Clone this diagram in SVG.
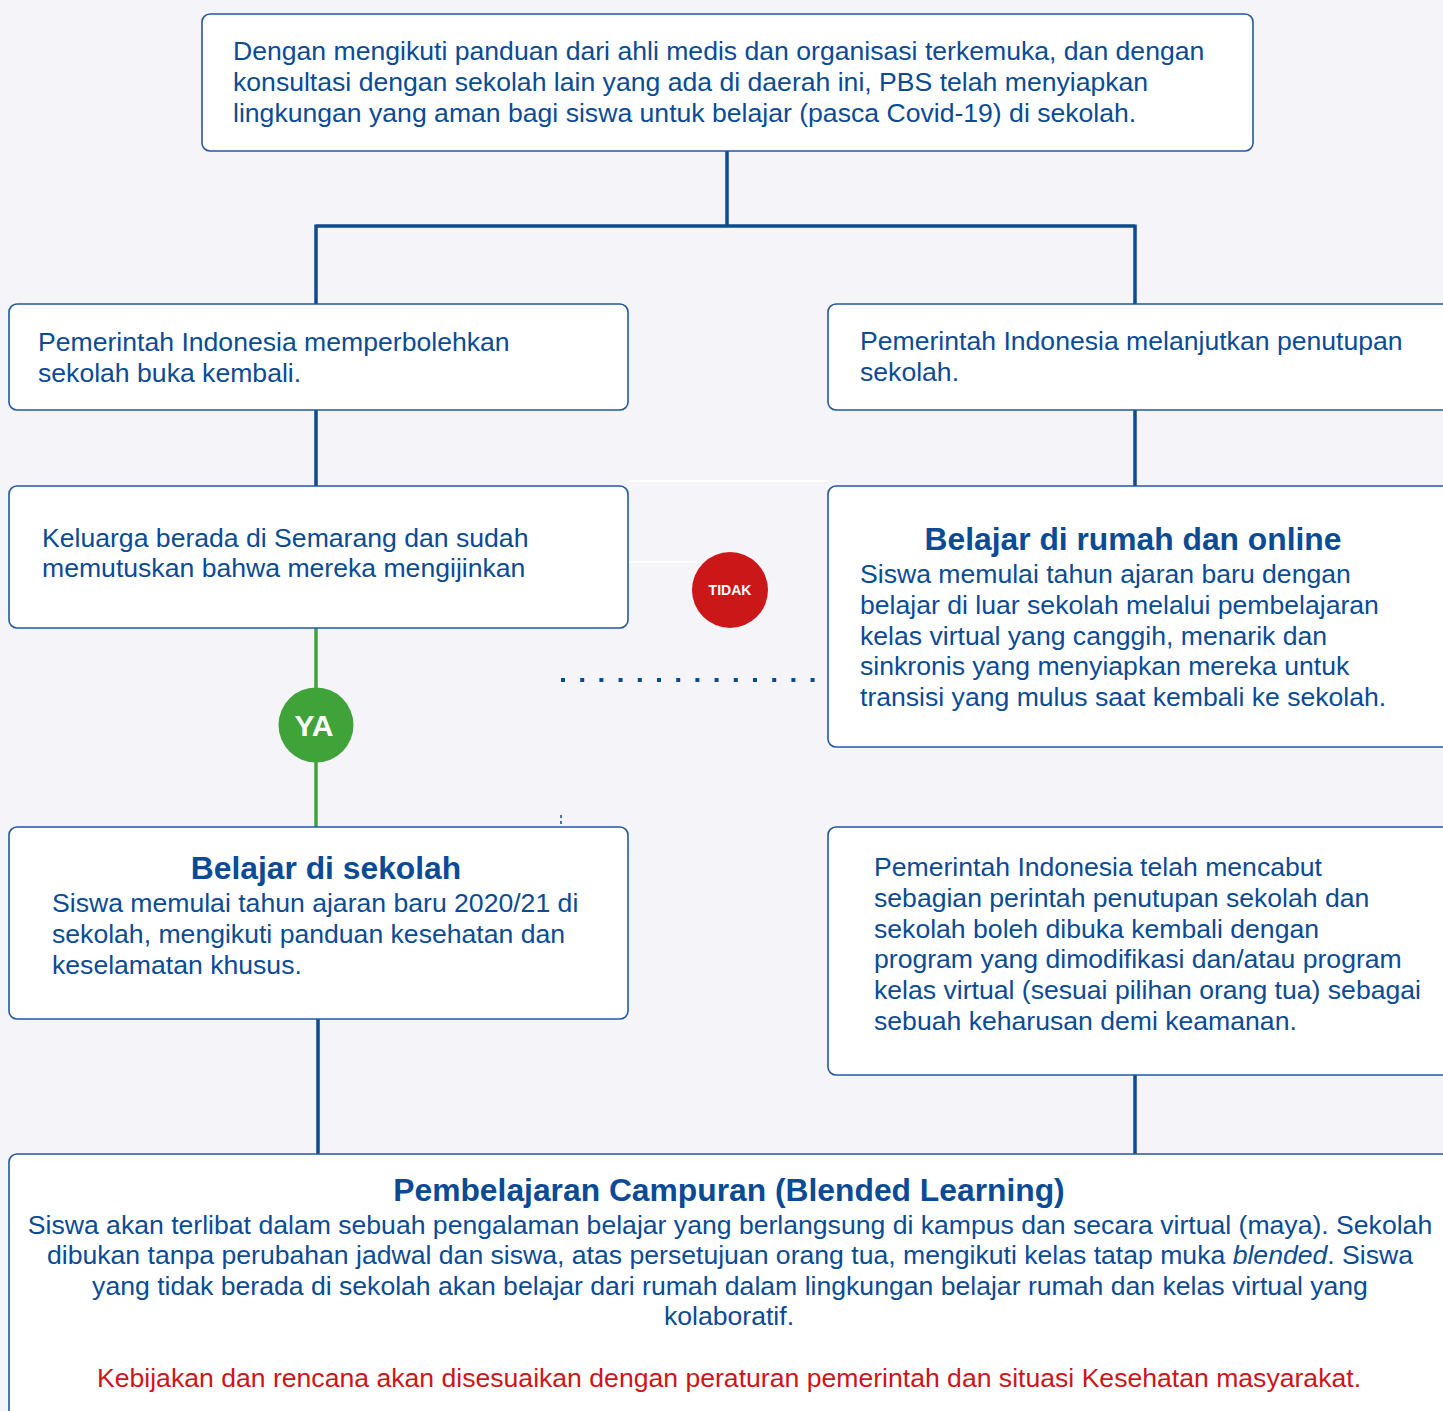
<svg xmlns="http://www.w3.org/2000/svg" width="1443" height="1411" viewBox="0 0 1443 1411">
<style>
.box{fill:#ffffff;stroke:#24589e;stroke-width:1.6}
.t{font-family:"Liberation Sans",Arial,sans-serif;font-size:26.6px;fill:#0b4b96}
.h{font-family:"Liberation Sans",Arial,sans-serif;font-size:31.8px;font-weight:bold;fill:#0b4b96}
.c{text-anchor:middle}
.ln{stroke:#0d4a8f;stroke-width:3.5;fill:none}
</style>
<rect width="1443" height="1411" fill="#f4f4f9"/>
<g id="connectors">
<path class="ln" d="M727 151V226M316 226H1135M316 224.5V304M1135 224.5V304M316 410V486M1135 410V486M318 1019V1154M1135 1075V1154"/>
<path d="M316 628V827" stroke="#3fa33a" stroke-width="3.5"/>
<path d="M629 481H828M628 562H700" stroke="#ffffff" stroke-width="2"/>
<path d="M561 680H826" stroke="#0d4a8f" stroke-width="4" stroke-dasharray="4 15.2"/>
<path d="M561 815V825" stroke="#0d4a8f" stroke-width="1.5" stroke-dasharray="3 3"/>
</g>
<g id="n_top">
<rect class="box" x="202" y="14" width="1051" height="137" rx="8"/>
<text class="t" x="233" y="60">Dengan mengikuti panduan dari ahli medis dan organisasi terkemuka, dan dengan</text>
<text class="t" x="233" y="91">konsultasi dengan sekolah lain yang ada di daerah ini, PBS telah menyiapkan</text>
<text class="t" x="233" y="122">lingkungan yang aman bagi siswa untuk belajar (pasca Covid-19) di sekolah.</text>
</g>
<g id="n_left1">
<rect class="box" x="9" y="304" width="619" height="106" rx="8"/>
<text class="t" x="38" y="351">Pemerintah Indonesia memperbolehkan</text>
<text class="t" x="38" y="382">sekolah buka kembali.</text>
</g>
<g id="n_right1">
<rect class="box" x="828" y="304" width="630" height="106" rx="8"/>
<text class="t" x="860" y="350">Pemerintah Indonesia melanjutkan penutupan</text>
<text class="t" x="860" y="381">sekolah.</text>
</g>
<g id="n_left2">
<rect class="box" x="9" y="486" width="619" height="142" rx="8"/>
<text class="t" x="42" y="547">Keluarga berada di Semarang dan sudah</text>
<text class="t" x="42" y="577">memutuskan bahwa mereka mengijinkan</text>
</g>
<g id="n_right2">
<rect class="box" x="828" y="486" width="630" height="261" rx="8"/>
<text class="h c" x="1133" y="550">Belajar di rumah dan online</text>
<text class="t" x="860" y="583">Siswa memulai tahun ajaran baru dengan</text>
<text class="t" x="860" y="614">belajar di luar sekolah melalui pembelajaran</text>
<text class="t" x="860" y="645">kelas virtual yang canggih, menarik dan</text>
<text class="t" x="860" y="675">sinkronis yang menyiapkan mereka untuk</text>
<text class="t" x="860" y="706">transisi yang mulus saat kembali ke sekolah.</text>
</g>
<g id="n_tidak">
<circle cx="730" cy="590" r="38" fill="#cc1719"/>
<text x="730" y="595" text-anchor="middle" font-family="Liberation Sans,Arial,sans-serif" font-size="14" font-weight="bold" fill="#ffffff">TIDAK</text>
</g>
<g id="n_ya">
<circle cx="316" cy="725" r="37.5" fill="#3fa33a"/>
<text x="314" y="736" text-anchor="middle" font-family="Liberation Sans,Arial,sans-serif" font-size="30" font-weight="bold" fill="#ffffff">YA</text>
</g>
<g id="n_left3">
<rect class="box" x="9" y="827" width="619" height="192" rx="8"/>
<text class="h c" x="326" y="879">Belajar di sekolah</text>
<text class="t" x="52" y="912">Siswa memulai tahun ajaran baru 2020/21 di</text>
<text class="t" x="52" y="943">sekolah, mengikuti panduan kesehatan dan</text>
<text class="t" x="52" y="974">keselamatan khusus.</text>
</g>
<g id="n_right3">
<rect class="box" x="828" y="827" width="630" height="248" rx="8"/>
<text class="t" x="874" y="876">Pemerintah Indonesia telah mencabut</text>
<text class="t" x="874" y="907">sebagian perintah penutupan sekolah dan</text>
<text class="t" x="874" y="938">sekolah boleh dibuka kembali dengan</text>
<text class="t" x="874" y="968">program yang dimodifikasi dan/atau program</text>
<text class="t" x="874" y="999">kelas virtual (sesuai pilihan orang tua) sebagai</text>
<text class="t" x="874" y="1030">sebuah keharusan demi keamanan.</text>
</g>
<g id="n_bottom">
<rect class="box" x="9" y="1154" width="1450" height="280" rx="8"/>
<text class="h c" x="729" y="1201">Pembelajaran Campuran (Blended Learning)</text>
<text class="t c" x="730" y="1234">Siswa akan terlibat dalam sebuah pengalaman belajar yang berlangsung di kampus dan secara virtual (maya). Sekolah</text>
<text class="t c" x="730" y="1264">dibukan tanpa perubahan jadwal dan siswa, atas persetujuan orang tua, mengikuti kelas tatap muka <tspan font-style="italic">blended</tspan>. Siswa</text>
<text class="t c" x="730" y="1295">yang tidak berada di sekolah akan belajar dari rumah dalam lingkungan belajar rumah dan kelas virtual yang</text>
<text class="t c" x="729" y="1325">kolaboratif.</text>
<text class="t c" x="729" y="1387" style="fill:#d0141a">Kebijakan dan rencana akan disesuaikan dengan peraturan pemerintah dan situasi Kesehatan masyarakat.</text>
</g>
</svg>
